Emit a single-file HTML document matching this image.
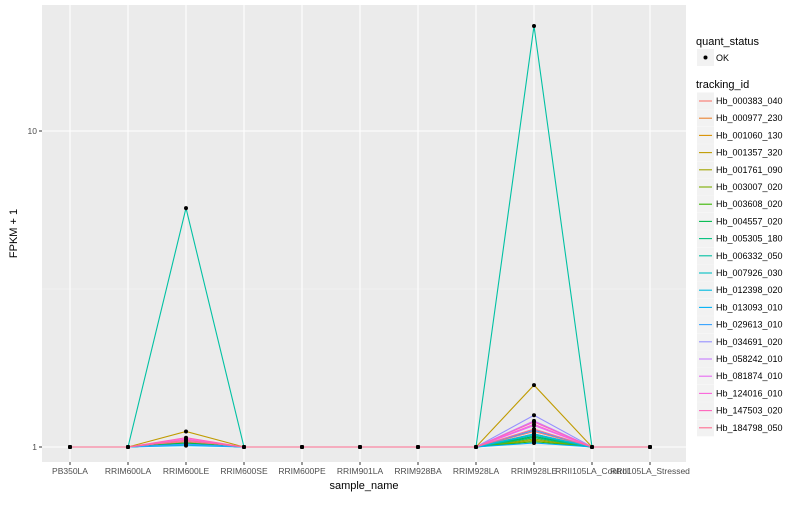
<!DOCTYPE html>
<html><head><meta charset="utf-8"><style>
body{margin:0;background:#fff;font-family:"Liberation Sans",sans-serif;}
svg text{font-family:"Liberation Sans",sans-serif;}
</style></head><body>
<svg id="c" width="800" height="500" xmlns="http://www.w3.org/2000/svg"></svg>
<script>
const categories=["PB350LA","RRIM600LA","RRIM600LE","RRIM600SE","RRIM600PE","RRIM901LA","RRIM928BA","RRIM928LA","RRIM928LE","RRII105LA_Control","RRII105LA_Stressed"];
const ids=["Hb_000383_040","Hb_000977_230","Hb_001060_130","Hb_001357_320","Hb_001761_090","Hb_003007_020","Hb_003608_020","Hb_004557_020","Hb_005305_180","Hb_006332_050","Hb_007926_030","Hb_012398_020","Hb_013093_010","Hb_029613_010","Hb_034691_020","Hb_058242_010","Hb_081874_010","Hb_124016_010","Hb_147503_020","Hb_184798_050"];
const colors=["#F8766D","#EA8331","#D89000","#C09B00","#A3A500","#7CAE00","#39B600","#00BB4E","#00BF7D","#00C1A3","#00BFC4","#00BAE0","#00B0F6","#35A2FF","#9590FF","#C77CFF","#E76BF3","#FA62DB","#FF62BC","#FF6C91"];
const val600LE=[1.04,1.03,1.03,1.12,1.02,1.02,1.02,1.03,1.02,5.7,1.02,1.02,1.01,1.02,1.05,1.06,1.05,1.06,1.07,1.05];
const val928LE=[1.12,1.08,1.10,1.57,1.05,1.06,1.04,1.08,1.07,21.5,1.09,1.10,1.03,1.13,1.26,1.21,1.17,1.18,1.20,1.14];
const yTicks=[1,10];
const ns="http://www.w3.org/2000/svg";
const svg=document.getElementById('c');
const L=42,R=686,T=5,B=462;
const x=i=>70+i*58;
const y=v=>447-316*Math.log10(v);
function mk(tag,a,parent){const e=document.createElementNS(ns,tag);for(const k in a)e.setAttribute(k,a[k]);(parent||svg).appendChild(e);return e;}
const panel=mk('rect',{x:L,y:T,width:R-L,height:B-T,fill:'#EBEBEB'});


// minor grid
[Math.sqrt(10)].forEach(v=>{const g=mk('line',{x1:L,x2:R,y1:y(v),y2:y(v),stroke:'#F5F5F5','stroke-width':0.6});});
yTicks.forEach(v=>{const g=mk('line',{x1:L,x2:R,y1:y(v),y2:y(v),stroke:'#fff','stroke-width':1.1});
const t=mk('text',{x:L-5,y:y(v)+3,'text-anchor':'end','font-size':8.5,fill:'#4D4D4D'});t.textContent=v;
mk('line',{x1:L-3,x2:L,y1:y(v),y2:y(v),stroke:'#333'});});
categories.forEach((c,i)=>{const g=mk('line',{x1:x(i),x2:x(i),y1:T,y2:B,stroke:'#fff','stroke-width':1.1});
mk('line',{x1:x(i),x2:x(i),y1:B,y2:B+3,stroke:'#333'});
const t=mk('text',{x:x(i),y:B+12,'text-anchor':'middle','font-size':8.5,fill:'#4D4D4D'});t.textContent=c;});
ids.forEach((id,s)=>{const vals=categories.map((c,i)=>i===2?val600LE[s]:i===8?val928LE[s]:1);
const p=mk('polyline',{points:vals.map((v,i)=>x(i)+','+y(v)).join(' '),fill:'none',stroke:colors[s],'stroke-width':1.1});

vals.forEach((v,i)=>{const d=mk('circle',{cx:x(i),cy:y(v),r:2,fill:'#000'});});});
const xt=mk('text',{x:(L+R)/2,y:489,'text-anchor':'middle','font-size':11});xt.textContent='sample_name';
const yt=mk('text',{x:17,y:(T+B)/2,'text-anchor':'middle','font-size':11,transform:`rotate(-90 17 ${(T+B)/2})`});yt.textContent='FPKM + 1';
// legend
const q=mk('text',{x:696,y:45,'font-size':11});q.textContent='quant_status';
mk('rect',{x:697,y:49,width:17,height:17,fill:'#F2F2F2'});
mk('circle',{cx:705.5,cy:57.5,r:2,fill:'#000'});
const ok=mk('text',{x:716,y:61,'font-size':9});ok.textContent='OK';
const tt=mk('text',{x:696,y:88,'font-size':11});tt.textContent='tracking_id';
ids.forEach((id,s)=>{const cy=101+s*17.2;
mk('rect',{x:697,y:cy-8.5,width:17,height:17,fill:'#F2F2F2'});
mk('line',{x1:699,x2:712,y1:cy,y2:cy,stroke:colors[s],'stroke-width':1.1});
const t=mk('text',{x:716,y:cy+3,'font-size':9});t.textContent=id;});
</script>
</body></html>
